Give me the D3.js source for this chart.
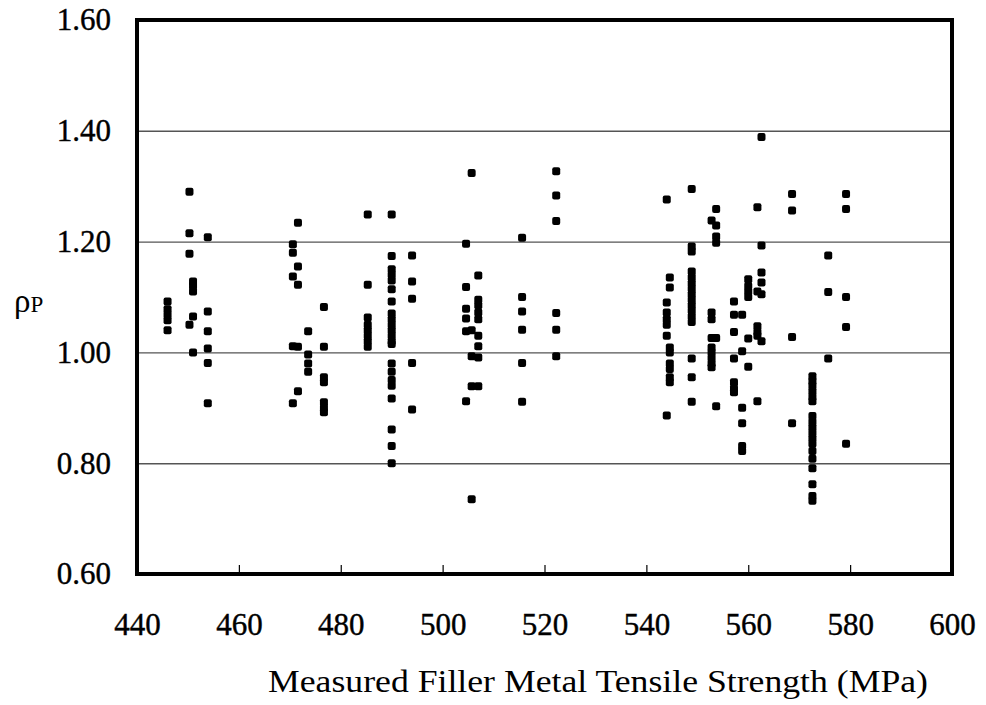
<!DOCTYPE html>
<html lang="en">
<head>
<meta charset="utf-8">
<title>rho P vs filler metal tensile strength</title>
<script src="https://d3js.org/d3.v7.min.js"></script>
<style>
  body { margin: 0; background: #fff; }
  svg text { font-family: "Liberation Serif", "Times New Roman", serif; fill: #000; }
  .tick-label { font-size: 31px; stroke: #000; stroke-width: 0.4; }
  .axis-title { font-size: 32px; }
  .grid line { stroke: #555; stroke-width: 1.4; }
</style>
</head>
<body>
<div id="chart"></div>
<script>
// measured filler metal tensile strength (MPa) of each vertical group of points
var strength = [446.0, 450.3, 451.0, 453.9, 470.6, 471.6, 473.6, 476.7, 485.3, 490.0,
  494.0, 504.6, 505.7, 507.0, 515.6, 522.3, 544.0, 544.6, 548.9, 552.8,
  553.7, 557.2, 558.8, 560.0, 561.8, 562.6, 568.6, 572.6, 575.7, 579.2];

// rho_P values in each group
var rhoP = [
  [1.092, 1.078, 1.068, 1.058, 1.04],
  [1.29, 1.215, 1.178, 1.05],
  [1.128, 1.12, 1.11, 1.065, 1.0],
  [1.208, 1.074, 1.038, 1.007, 0.981, 0.908],
  [1.195, 1.18, 1.137, 1.011, 0.908],
  [1.234, 1.155, 1.122, 1.01, 0.93],
  [1.038, 0.996, 0.98, 0.965],
  [1.082, 1.01, 0.955, 0.946, 0.91, 0.9, 0.892],
  [1.249, 1.122, 1.063, 1.05, 1.04, 1.03, 1.02, 1.01],
  [1.249, 1.174, 1.15, 1.14, 1.13, 1.114, 1.092, 1.07, 1.06, 1.05, 1.04, 1.03, 1.02, 1.015,
   0.98, 0.965, 0.95, 0.94, 0.917, 0.861, 0.831, 0.80],
  [1.175, 1.128, 1.097, 0.981, 0.897],
  [1.196, 1.118, 1.079, 1.061, 1.038, 0.912],
  [1.324, 1.04, 0.993, 0.939, 0.735],
  [1.139, 1.095, 1.085, 1.072, 1.06, 1.03, 1.011, 0.991, 0.939],
  [1.207, 1.1, 1.074, 1.041, 0.981, 0.911],
  [1.327, 1.283, 1.237, 1.071, 1.041, 0.993],
  [1.276, 1.09, 1.072, 1.06, 1.05, 1.03, 0.886],
  [1.135, 1.117, 1.009, 1.0, 0.98, 0.97, 0.955, 0.946],
  [1.295, 1.191, 1.182, 1.146, 1.135, 1.125, 1.115, 1.105, 1.095, 1.085, 1.075, 1.065, 1.055,
   0.989, 0.955, 0.911],
  [1.238, 1.072, 1.06, 1.026, 1.009, 1.0, 0.99, 0.98, 0.973],
  [1.259, 1.229, 1.209, 1.198, 1.026, 0.903],
  [1.092, 1.068, 1.037, 0.989, 0.946, 0.935, 0.928],
  [1.068, 1.002, 0.9, 0.872, 0.831, 0.822],
  [1.132, 1.12, 1.11, 1.10, 1.025, 0.974],
  [1.262, 1.11, 1.047, 1.037, 1.03, 0.912],
  [1.389, 1.193, 1.144, 1.126, 1.105, 1.02],
  [1.286, 1.256, 1.028, 0.872],
  [0.957, 0.948, 0.94, 0.93, 0.92, 0.912, 0.885, 0.875, 0.865, 0.855, 0.845, 0.835, 0.822,
   0.808, 0.791, 0.762, 0.741, 0.732],
  [1.175, 1.109, 0.989],
  [1.286, 1.259, 1.1, 1.046, 0.835]
];

var xTicks = [440, 460, 480, 500, 520, 540, 560, 580, 600];
var yTicks = [0.6, 0.8, 1.0, 1.2, 1.4, 1.6];

var margin = {top: 20, right: 34, bottom: 131, left: 137};
var width = 986 - margin.left - margin.right;
var height = 705 - margin.top - margin.bottom;

var points = [];
strength.forEach(function(s, i) {
  rhoP[i].forEach(function(r) { points.push({x: s, y: r}); });
});

var x = d3.scaleLinear().domain([440, 600]).range([0, width]);
var y = d3.scaleLinear().domain([0.6, 1.6]).range([height, 0]);

var svg = d3.select("#chart").append("svg")
  .attr("width", 986)
  .attr("height", 705);

var g = svg.append("g")
  .attr("transform", "translate(" + margin.left + "," + margin.top + ")");

// horizontal grid lines
g.append("g")
  .attr("class", "grid")
  .call(d3.axisLeft(y).tickValues([0.8, 1.0, 1.2, 1.4]).tickSize(-width).tickFormat(""))
  .call(function(a) { a.select(".domain").remove(); });

// y tick labels
g.append("g")
  .call(d3.axisLeft(y).tickValues(yTicks).tickSize(0).tickPadding(26)
    .tickFormat(d3.format(".2f")))
  .call(function(a) {
    a.select(".domain").remove();
    a.selectAll("text").attr("class", "tick-label").attr("font-size", null).attr("font-family", null);
  });

// x axis: short inner ticks and labels
g.append("g")
  .attr("transform", "translate(0," + height + ")")
  .call(d3.axisBottom(x).tickValues(xTicks).tickSizeInner(-9).tickSizeOuter(0).tickPadding(0))
  .call(function(a) {
    a.select(".domain").remove();
    a.selectAll("line").attr("stroke", "#000").attr("stroke-width", 1.2);
    a.selectAll("text").attr("class", "tick-label").attr("font-size", null)
      .attr("font-family", null).attr("y", 61).attr("dy", null);
  });

// points
g.selectAll(".pt")
  .data(points)
  .enter()
  .append("rect")
  .attr("class", "pt")
  .attr("x", function(d) { return x(d.x) - 4; })
  .attr("y", function(d) { return y(d.y) - 4; })
  .attr("width", 8)
  .attr("height", 8)
  .attr("rx", 2)
  .attr("fill", "#000");

// plot frame
g.append("rect")
  .attr("width", width)
  .attr("height", height)
  .attr("fill", "none")
  .attr("stroke", "#000")
  .attr("stroke-width", 4);

// axis titles
svg.append("text")
  .attr("class", "axis-title")
  .attr("x", 268)
  .attr("y", 692)
  .attr("textLength", 660)
  .attr("lengthAdjust", "spacingAndGlyphs")
  .text("Measured Filler Metal Tensile Strength (MPa)");

var yt = svg.append("text")
  .attr("x", 14)
  .attr("y", 312);
yt.append("tspan").attr("font-size", 33).text("ρ");
yt.append("tspan").attr("font-size", 23).text("P");
</script>
</body>
</html>
